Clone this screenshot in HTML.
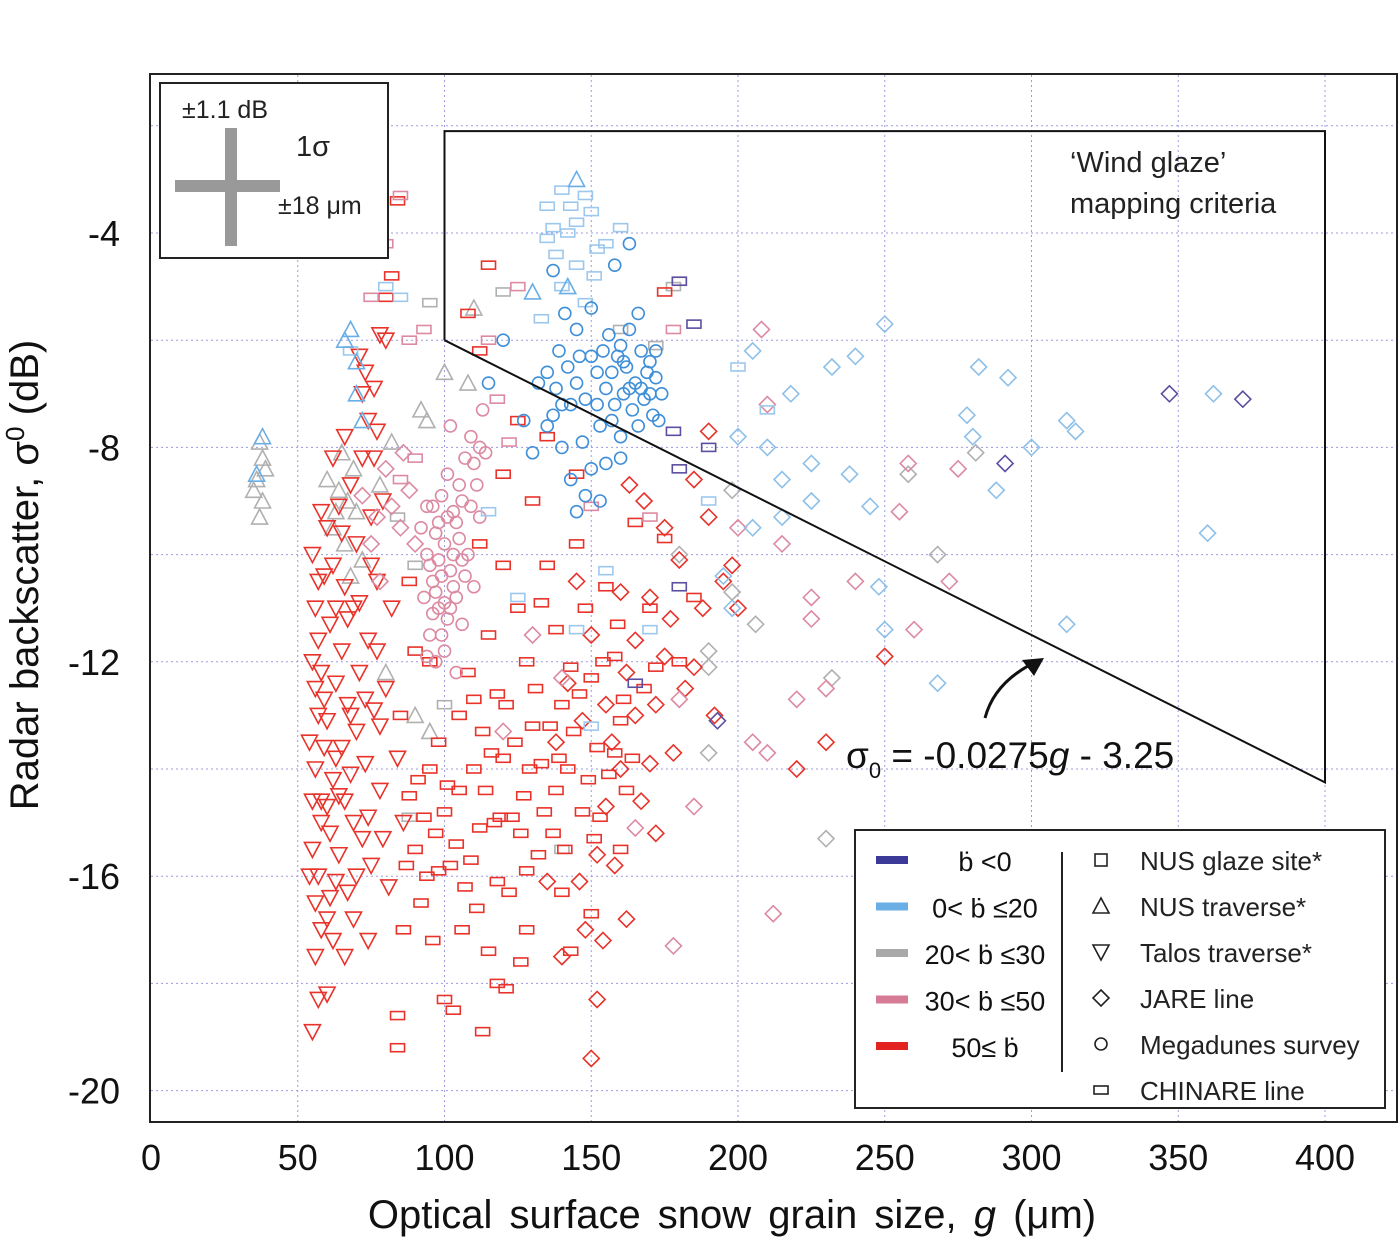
<!DOCTYPE html>
<html><head><meta charset="utf-8"><style>
body{margin:0;background:#fff;}
svg{display:block;font-family:"Liberation Sans",sans-serif;}
</style></head><body>
<svg id="chart" width="1400" height="1238" viewBox="0 0 1400 1238">
<rect x="150" y="74" width="1247" height="1048" fill="#fff" stroke="#222" stroke-width="2"/>
<g id="grid"></g>
<g id="ticks"></g>
<g id="marks"></g>
<polyline id="criteria" fill="none" stroke="#111" stroke-width="2"/>
<text x="1070" y="172" font-size="29" fill="#222">‘Wind glaze’</text>
<text x="1070" y="213" font-size="29" fill="#222">mapping criteria</text>
<path d="M985,718 Q995,680 1040,660" fill="none" stroke="#111" stroke-width="3"/>
<polygon points="1044,658 1022,660 1034,676" fill="#111"/>
<text x="846" y="768" font-size="37" fill="#111">σ<tspan font-size="22" dy="10">0</tspan><tspan dy="-10"> = -0.0275</tspan><tspan font-style="italic">g</tspan> - 3.25</text>
<g>
<rect x="160" y="83" width="228" height="175" fill="#fff" stroke="#222" stroke-width="2"/>
<rect x="175" y="180" width="105" height="12" fill="#999"/>
<rect x="225" y="128" width="12" height="118" fill="#999"/>
<text x="182" y="118" font-size="25" fill="#222">±1.1 dB</text>
<text x="296" y="156" font-size="29" fill="#222">1σ</text>
<text x="278" y="214" font-size="25" fill="#222">±18 μm</text>
</g>
<text transform="translate(38,575) rotate(-90)" text-anchor="middle" font-size="40" fill="#111">Radar backscatter, σ<tspan font-size="26" dy="-14">0</tspan><tspan dy="14"> (dB)</tspan></text>
<text x="732" y="1228" text-anchor="middle" font-size="40" fill="#111" word-spacing="6">Optical surface snow grain size, <tspan font-style="italic">g</tspan> (μm)</text>
<g>
<rect x="855" y="830" width="530" height="278" fill="#fff" stroke="#222" stroke-width="2"/>
<line x1="1062" y1="852" x2="1062" y2="1072" stroke="#222" stroke-width="2"/>
<g id="legendRows"></g>
</g>
</svg>
<script>
const xTicks=[0,50,100,150,200,250,300,350,400];
const yTicks=[-4,-8,-12,-16,-20];
const gridX=[50,100,150,200,250,300,350,400];
const gridY=[-2,-4,-6,-8,-10,-12,-14,-16,-18,-20];
const lineSlope=-0.0275, lineIntercept=-3.25, boxTop=-2.1, boxG0=100, boxG1=400;
const redTri=[[55,-10],[56,-11],[55,-12],[57,-13],[56,-14],[58,-15],[55,-15.5],[57,-16],[56,-16.5],[58,-17],[56,-17.5],[60,-18.2],[55,-18.9],[60,-9.5],[62,-10.2],[61,-11.3],[63,-12.4],[60,-13.1],[62,-14.2],[61,-15.2],[63,-16.1],[60,-16.8],[64,-9.1],[66,-10.6],[65,-11.8],[67,-12.8],[65,-13.6],[66,-14.6],[64,-15.6],[67,-16.3],[68,-8.7],[70,-9.8],[69,-11],[71,-12.2],[70,-13.3],[68,-14.1],[72,-15.3],[70,-16],[72,-7],[74,-7.5],[73,-6.6],[76,-8.2],[75,-9.3],[77,-10.5],[74,-11.6],[76,-12.9],[78,-14.4],[75,-15.8],[80,-6],[78,-5.9],[82,-11],[80,-12.5],[84,-13.8],[81,-16.2],[86,-15],[79,-9],[58,-9.2],[62,-8.2],[66,-7.8],[71,-6.3],[74,-17.2],[66,-17.5],[57,-11.6],[59,-12.7],[58,-14.6],[63,-13.8],[69,-15],[73,-13.9],[77,-11.8],[59,-10.4],[54,-13.5],[55,-14.6],[54,-16],[56,-12.5],[57,-10.5],[59,-13.6],[61,-16.4],[62,-17.2],[63,-11],[64,-14.5],[65,-9.6],[67,-11.2],[68,-13],[69,-16.8],[71,-10.9],[72,-8.2],[73,-12.7],[74,-14.9],[75,-10.2],[76,-6.9],[77,-7.7],[78,-13.2],[79,-15.3],[57,-18.3],[60,-14.7],[58,-12.2]];
const redRect=[[85,-13],[88,-14.5],[90,-15.5],[92,-16.5],[86,-17],[95,-12],[98,-13.5],[100,-14.8],[102,-15.8],[96,-17.2],[105,-13],[108,-12.2],[110,-14],[112,-15.1],[107,-16.2],[115,-11.5],[118,-12.6],[120,-13.8],[117,-15],[122,-16.3],[125,-11],[128,-12],[130,-13.2],[127,-14.5],[132,-15.6],[135,-10.2],[138,-11.4],[140,-12.8],[142,-14],[137,-15.2],[145,-9.8],[148,-11],[150,-12.3],[152,-13.6],[147,-14.8],[155,-10.6],[158,-11.9],[160,-13.1],[162,-14.4],[165,-9.4],[168,-12.5],[170,-11],[172,-12.1],[175,-9.7],[120,-10.2],[112,-9.8],[130,-9],[100,-18.3],[84,-19.2],[84,-18.6],[118,-18],[128,-17],[140,-16.3],[115,-17.4],[95,-14],[90,-11.8],[88,-10.5],[125,-7.5],[120,-8.5],[115,-4.6],[82,-4.8],[84,-3.4],[80,-5.2],[78,-3.7],[180,-4.9],[175,-5.1],[145,-8.5],[135,-7.8],[180,-12],[185,-10.8],[160,-15.5],[150,-16.7],[108,-5.5],[112,-6.2],[103,-18.5],[143,-17.4],[93,-14.9],[105,-14.4],[113,-13.3],[123,-14.9],[133,-13.9],[143,-12.1],[153,-14.9],[98,-15.9],[118,-16.1],[138,-14.4],[128,-15.9],[110,-12.7],[133,-10.9],[158,-13.7],[87,-15.8],[91,-14.2],[94,-16],[97,-15.2],[101,-14.3],[104,-15.4],[106,-17],[109,-15.7],[111,-16.6],[114,-14.4],[116,-13.7],[119,-14.9],[121,-12.8],[124,-13.5],[126,-15.2],[129,-14],[131,-12.5],[134,-14.8],[136,-13.2],[139,-13.8],[141,-15.5],[144,-13.3],[146,-12.6],[149,-14.2],[151,-15.3],[154,-12],[156,-14.1],[159,-11.3],[161,-12.7],[164,-13.8],[126,-17.6],[121,-18.1],[113,-18.9]];
const redDia=[[145,-10.5],[150,-11.5],[155,-12.8],[160,-14],[158,-15.8],[165,-13],[170,-10.8],[172,-15.2],[175,-11.9],[178,-13.7],[180,-10.1],[182,-12.5],[185,-8.6],[188,-11],[190,-9.3],[192,-13],[195,-10.5],[200,-11],[148,-17],[140,-17.5],[152,-18.3],[150,-19.4],[138,-13.5],[162,-16.8],[168,-9],[175,-9.5],[135,-16.1],[198,-10.2],[250,-11.9],[230,-13.5],[220,-14],[190,-7.7],[163,-8.7],[155,-14.7],[165,-11.6],[170,-13.9],[142,-12.4],[147,-13.1],[152,-15.6],[157,-13.5],[162,-12.2],[167,-14.6],[172,-12.8],[177,-11.2],[146,-16.1],[154,-17.2],[160,-10.7],[185,-12.1]];
const pinkCirc=[[92,-9.5],[94,-10],[96,-10.5],[98,-11],[100,-9.8],[102,-10.3],[104,-10.8],[106,-11.3],[95,-11.5],[99,-8.9],[101,-8.5],[103,-9.2],[105,-9.7],[107,-8.2],[109,-7.8],[111,-8.7],[97,-12],[100,-11.8],[93,-10.8],[108,-10],[110,-10.6],[112,-9.3],[114,-8.1],[96,-9.1],[104,-12.2],[102,-7.6],[113,-7.3],[106,-9],[98,-10.1],[101,-11.2],[94,-9.1],[97,-10.7],[103,-10],[105,-8.7],[99,-11.5],[95,-10.2],[97,-9.6],[99,-10.4],[100,-10.9],[102,-11],[103,-10.6],[98,-9.4],[96,-11.1],[104,-9.4],[107,-10.4],[109,-9.1],[110,-8.3],[112,-8],[94,-11.9],[101,-9.3],[106,-10.1]];
const pinkDia=[[80,-8.4],[85,-9.5],[88,-8.8],[75,-9.8],[78,-10.5],[72,-8.9],[210,-7.2],[208,-5.8],[215,-9.8],[225,-10.8],[240,-10.5],[258,-8.3],[255,-9.2],[275,-8.4],[272,-10.5],[260,-11.4],[230,-12.5],[225,-11.2],[205,-13.5],[210,-13.7],[185,-14.7],[178,-17.3],[212,-16.7],[220,-12.7],[200,-9.5],[180,-12.7],[165,-15.1],[130,-11.5],[140,-12.3],[120,-13.3],[82,-9.1],[86,-8.1],[90,-9.8],[77,-9.3]];
const pinkRect=[[75,-5.2],[85,-3.3],[80,-4.2],[88,-6],[93,-5.8],[115,-6],[125,-5],[178,-5.8],[170,-9.3],[150,-9.1],[85,-8.6],[90,-8.2],[118,-7.1],[122,-7.9]];
const grayTri=[[37,-7.9],[38,-8.2],[36,-8.6],[38,-9],[37,-9.3],[35,-8.8],[39,-8.4],[62,-9.5],[64,-8.8],[66,-9.8],[68,-10.4],[70,-9.2],[72,-10.1],[65,-8.1],[92,-7.3],[94,-7.5],[110,-5.4],[100,-6.6],[108,-6.8],[82,-7.9],[78,-8.7],[95,-13.3],[80,-12.2],[90,-13],[60,-8.6],[63,-9.2],[67,-9],[69,-8.4]];
const grayDia=[[198,-10.7],[206,-11.3],[190,-11.8],[190,-12.1],[232,-12.3],[268,-10],[258,-8.5],[281,-8.1],[230,-15.3],[190,-13.7],[180,-10],[198,-8.8]];
const grayRect=[[95,-5.3],[120,-5.1],[160,-5.8],[172,-6.1],[178,-5],[100,-12.8],[88,-14.9],[140,-15.5],[84,-9.3],[90,-10.2]];
const blueCirc=[[135,-6.6],[138,-6.9],[140,-7.2],[142,-6.5],[145,-6.8],[148,-7.1],[150,-6.3],[152,-6.6],[155,-6.9],[158,-7.2],[160,-6.1],[162,-6.5],[165,-6.8],[168,-7.1],[170,-6.4],[172,-6.7],[174,-7],[156,-5.9],[159,-6.3],[163,-5.8],[167,-6.2],[171,-7.4],[166,-7.6],[160,-7.8],[153,-7.6],[147,-7.9],[140,-8],[135,-7.6],[130,-8.1],[127,-7.5],[145,-5.8],[150,-5.4],[141,-5.5],[137,-4.7],[120,-6],[115,-6.8],[155,-8.3],[150,-8.4],[148,-8.9],[160,-8.2],[163,-4.2],[158,-4.6],[145,-9.2],[153,-9],[143,-8.6],[173,-7.5],[166,-5.5],[157,-7.5],[143,-7.2],[132,-6.8],[161,-7],[169,-6.6],[154,-6.2],[164,-7.3],[157,-6.6],[163,-6.9],[167,-6.9],[170,-7],[172,-6.2],[161,-6.4],[152,-7.2],[146,-6.3],[139,-6.2],[137,-7.4]];
const blueRect=[[135,-3.5],[140,-3.2],[142,-4],[145,-3.8],[148,-3.3],[150,-3.6],[152,-4.3],[145,-4.6],[138,-4.4],[155,-4.2],[140,-5],[148,-5.3],[160,-3.9],[135,-4.1],[133,-5.6],[85,-5.2],[80,-5],[68,-6.2],[155,-10.3],[145,-11.4],[200,-6.5],[210,-7.3],[190,-9],[125,-10.8],[115,-9.2],[150,-13.2],[170,-11.4],[143,-3.5],[151,-4.8],[137,-3.9]];
const blueTri=[[145,-3],[142,-5],[68,-5.8],[66,-6],[70,-6.4],[72,-7.5],[70,-7],[38,-7.8],[36,-8.5],[130,-5.1]];
const blueDia=[[205,-6.2],[218,-7],[232,-6.5],[240,-6.3],[250,-5.7],[282,-6.5],[292,-6.7],[278,-7.4],[280,-7.8],[312,-7.5],[315,-7.7],[362,-7],[200,-7.8],[210,-8],[215,-8.6],[225,-8.3],[238,-8.5],[245,-9.1],[288,-8.8],[215,-9.3],[205,-9.5],[195,-10.4],[198,-11],[248,-10.6],[250,-11.4],[268,-12.4],[312,-11.3],[360,-9.6],[300,-8],[225,-9]];
const purpleDia=[[347,-7],[372,-7.1],[291,-8.3],[193,-13.1]];
const purpleRect=[[178,-7.7],[180,-8.4],[190,-8],[185,-5.7],[180,-4.9],[165,-12.4],[180,-10.6]];
const legendColors=[["#3b3a99","","<0"],["#6aaee6","0<","≤20"],["#a9a9a9","20<","≤30"],["#d77a95","30<","≤50"],["#e52222","50≤",""]];
const legendShapes=["NUS  glaze site*","NUS  traverse*","Talos  traverse*","JARE  line","Megadunes  survey","CHINARE  line"];

const NS="http://www.w3.org/2000/svg";
const X=g=>151+g*2.935;
const Y=s=>233+(-4-s)*53.6;
function el(tag,attrs,parent){const e=document.createElementNS(NS,tag);for(const k in attrs)e.setAttribute(k,attrs[k]);parent.appendChild(e);return e;}
const grid=document.getElementById('grid'),ticks=document.getElementById('ticks'),marks=document.getElementById('marks');
gridX.forEach(g=>{const l=el('line',{x1:X(g),x2:X(g),y1:75,y2:1121,stroke:'#9b9be0','stroke-width':1,'stroke-dasharray':'2,3'},grid);

});
gridY.forEach(s=>{const l=el('line',{x1:151,x2:1396,y1:Y(s),y2:Y(s),stroke:'#9b9be0','stroke-width':1,'stroke-dasharray':'2,3'},grid);

});
xTicks.forEach(g=>{const t=el('text',{x:X(g),y:1170,'text-anchor':'middle','font-size':36,fill:'#111'},ticks);t.textContent=g;

});
yTicks.forEach(s=>{const t=el('text',{x:120,y:Y(s)+13,'text-anchor':'end','font-size':36,fill:'#111'},ticks);t.textContent=s;

});
function shape(kind,cx,cy,color,parent){
 let e;
 if(kind==='tri')e=el('polygon',{points:`${cx-8},${cy+7} ${cx+8},${cy+7} ${cx},${cy-8}`},parent);
 else if(kind==='itri')e=el('polygon',{points:`${cx-8},${cy-7} ${cx+8},${cy-7} ${cx},${cy+8}`},parent);
 else if(kind==='dia')e=el('polygon',{points:`${cx},${cy-8} ${cx+8},${cy} ${cx},${cy+8} ${cx-8},${cy}`},parent);
 else if(kind==='circ')e=el('circle',{cx:cx,cy:cy,r:6},parent);
 else if(kind==='sq')e=el('rect',{x:cx-6,y:cy-6,width:12,height:12},parent);
 else e=el('rect',{x:cx-7,y:cy-4,width:14,height:8},parent);
 e.setAttribute('fill','none');e.setAttribute('stroke',color);e.setAttribute('stroke-width',1.6);
 return e;}
function plot(arr,kind,color,name){arr.forEach(p=>{const e=shape(kind,X(p[0]),Y(p[1]),color,marks);

});}
plot(grayTri,'tri','#b0b0b0','point-gray-triangle');
plot(grayRect,'rect','#b0b0b0','point-gray-rect');
plot(grayDia,'dia','#b0b0b0','point-gray-diamond');
plot(redTri,'itri','#e8322a','point-red-triangle');
plot(redRect,'rect','#e8322a','point-red-rect');
plot(redDia,'dia','#e8322a','point-red-diamond');
plot(pinkDia,'dia','#dc8aa2','point-pink-diamond');
plot(pinkRect,'rect','#dc8aa2','point-pink-rect');
plot(pinkCirc,'circ','#dc8aa2','point-pink-circle');
plot(blueRect,'rect','#9cc8ee','point-lightblue-rect');
plot(blueTri,'tri','#6aaee6','point-blue-triangle');
plot(blueDia,'dia','#8ec0e8','point-blue-diamond');
plot(blueCirc,'circ','#3f8fd8','point-blue-circle');
plot(purpleDia,'dia','#5a4fa0','point-purple-diamond');
plot(purpleRect,'rect','#5a4fa0','point-purple-rect');
const f=g=>lineSlope*g+lineIntercept;
document.getElementById('criteria').setAttribute('points',`${X(boxG0)},${Y(f(boxG0))} ${X(boxG0)},${Y(boxTop)} ${X(boxG1)},${Y(boxTop)} ${X(boxG1)},${Y(f(boxG1))} ${X(boxG0)},${Y(f(boxG0))}`);
const lr=document.getElementById('legendRows');
legendColors.forEach((c,i)=>{const y=860+i*46.5;
 const r=el('rect',{x:876,y:y-4,width:32,height:8,fill:c[0]},lr);
 
 
 const t=el('text',{x:985,y:y+11,'text-anchor':'middle','font-size':27,fill:'#111','xml:space':'preserve'},lr);
 t.textContent=(c[1]?c[1]+' ':'')+'ḃ'+(c[2]?' '+c[2]:'');
 
 });
const kinds=['sq','tri','itri','dia','circ','rect'];
legendShapes.forEach((s,i)=>{const y=860+i*46;
 const e=shape(kinds[i],1101,y,'#222',lr);
 
 
 const t=el('text',{x:1140,y:y+10,'font-size':26,fill:'#222','xml:space':'preserve'},lr);t.textContent=s;
 
 });
</script>
</body></html>
